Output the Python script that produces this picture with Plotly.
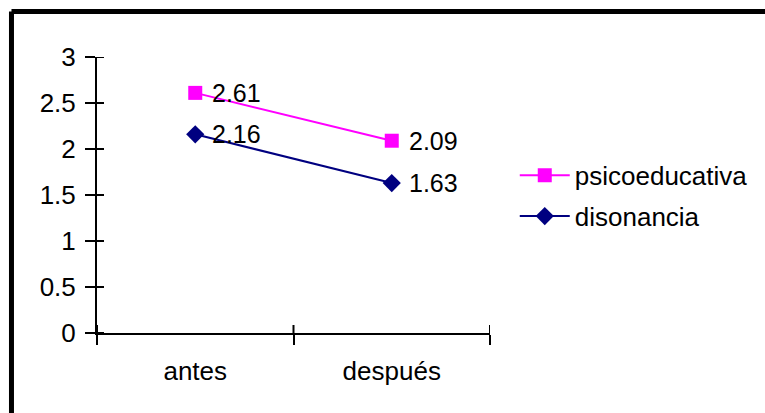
import plotly.graph_objects as go

# Data
momentos = ["antes", "después"]
psicoeducativa = [2.61, 2.09]
disonancia = [2.16, 1.63]
y_ticks = [0, 0.5, 1, 1.5, 2, 2.5, 3]

FONT = "Arial, Liberation Sans, sans-serif"
FS = 26
LABEL_FS = 25

series = [
    ("psicoeducativa", psicoeducativa, "#FF00FF", "square"),
    ("disonancia", disonancia, "#000080", "diamond"),
]

fig = go.Figure()
annotations = []
for name, vals, color, symbol in series:
    fig.add_trace(go.Scatter(
        x=momentos, y=vals, name=name, mode="lines+markers",
        line=dict(color=color, width=2),
        marker=dict(symbol=symbol, size=14, color=color),
        legendgroup=name,
    ))
    for cat, v in zip(momentos, vals):
        annotations.append(dict(
            x=cat, y=v, xref="x", yref="y", text=f"{v:.2f}",
            showarrow=False, xanchor="left", yanchor="middle", xshift=15,
            font=dict(family=FONT, size=LABEL_FS, color="black"),
        ))

# inner half of the crossing tick marks (outer half comes from the axes)
PLOT_W, PLOT_H = 393, 276
tick_shapes = []
for t in y_ticks:
    tick_shapes.append(dict(type="line", xref="paper", yref="y",
                            x0=0, x1=7 / PLOT_W, y0=t, y1=t,
                            line=dict(color="black", width=2)))
n_cat = len(momentos)
for k in range(n_cat + 1):
    b = k - 0.5  # category boundaries
    tick_shapes.append(dict(type="line", xref="x", yref="paper",
                            x0=b, x1=b, y0=0, y1=8 / PLOT_H,
                            line=dict(color="black", width=2)))

# frame lines along the top and left edges
frame = [
    dict(type="line", xref="paper", yref="paper",
         x0=-0.2176, x1=1.8, y0=1.165, y1=1.165,
         line=dict(color="black", width=5)),
    dict(type="line", xref="paper", yref="paper",
         x0=-0.2176, x1=-0.2176, y0=1.165, y1=-0.35,
         line=dict(color="black", width=5)),
]

fig.update_layout(
    width=765, height=413,
    margin=dict(l=97, r=275, t=57, b=80),
    paper_bgcolor="white", plot_bgcolor="white",
    font=dict(family=FONT, size=FS, color="black"),
    showlegend=True,
    annotations=annotations,
    legend=dict(x=1.063, y=0.497, xanchor="left", yanchor="middle",
                font=dict(family=FONT, size=FS), tracegroupgap=4,
                itemwidth=50, bgcolor="rgba(0,0,0,0)"),
    xaxis=dict(type="category", range=[-0.5, n_cat - 0.5], showline=True,
               linecolor="black", linewidth=2, showgrid=False, zeroline=False,
               ticks="outside", ticklen=10, tickwidth=2, tickcolor="black",
               tickson="boundaries", ticklabelstandoff=14),
    yaxis=dict(range=[0, 3], tickvals=y_ticks, showline=True,
               linecolor="black", linewidth=2, showgrid=False, zeroline=False,
               ticks="outside", ticklen=10, tickwidth=2, tickcolor="black",
               ticklabelstandoff=4),
    shapes=tick_shapes + frame,
)

fig.write_html("out.html")
